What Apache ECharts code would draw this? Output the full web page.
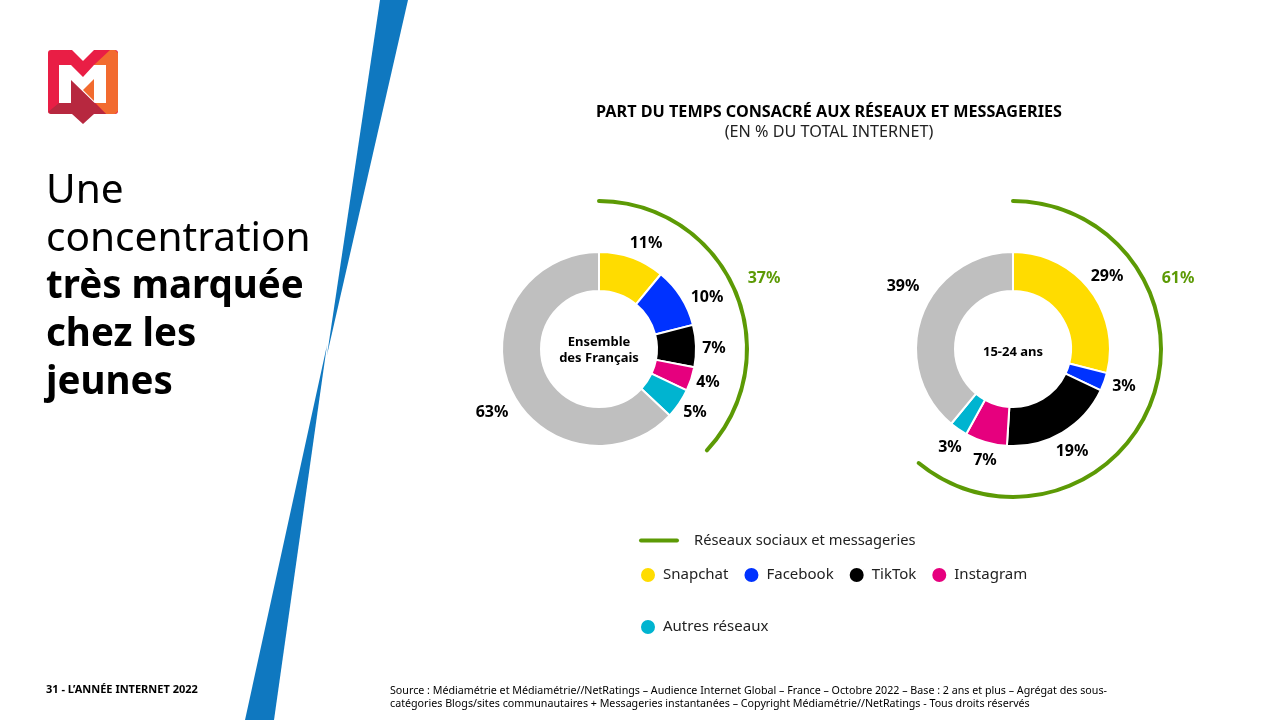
<!DOCTYPE html>
<html lang="fr">
<head>
<meta charset="utf-8">
<title>Part du temps consacré aux réseaux et messageries</title>
<style>
  html, body { margin: 0; padding: 0; background: #fff; }
  #chart { width: 1280px; height: 720px; }
</style>
<script src="https://cdn.jsdelivr.net/npm/echarts@6/dist/echarts.min.js"></script>
</head>
<body>
<div id="chart"></div>
<script>
const categories = ['Snapchat', 'Facebook', 'TikTok', 'Instagram', 'Autres réseaux', 'Autres usages'];
const ensembleValues = [11, 10, 7, 4, 5, 63];
const jeunesValues = [29, 3, 19, 7, 3, 39];
const reseauxName = 'Réseaux sociaux et messageries';
const ensembleTotal = 37;
const jeunesTotal = 61;

const sliceColors = ['#FFDC00', '#0032FF', '#000000', '#E6007E', '#00B4D0', '#BFBFBF'];
const GREEN = '#5C9A05';
const FONT = '"Noto Sans", sans-serif';

// label centres, relative to the donut centre
const ensembleLabelOffsets = [[47, -106], [108, -52], [115, -1], [109, 33], [96, 63], [-107, 63]];
const jeunesLabelOffsets = [[94, -73], [111, 37], [59, 102], [-28, 111], [-63, 98], [-110, -63]];

function donut(values, center, offsets) {
  return {
    type: 'pie',
    center: center,
    radius: [58, 97],
    startAngle: 90,
    avoidLabelOverlap: false,
    silent: true,
    animation: false,
    itemStyle: { borderColor: '#fff', borderWidth: 2 },
    label: { formatter: '{d}%', color: '#000', fontFamily: FONT, fontWeight: 'bold', fontSize: 16 },
    labelLine: { show: false },
    labelLayout: params => {
      const off = offsets[params.dataIndex];
      return { x: center[0] + off[0], y: center[1] + off[1], align: 'center', verticalAlign: 'middle' };
    },
    data: categories.map((name, i) => ({
      name: name,
      value: values[i],
      itemStyle: { color: sliceColors[i] }
    }))
  };
}

function totalArc(total, center) {
  return {
    type: 'gauge',
    name: reseauxName,
    center: center,
    radius: 150,
    startAngle: 90,
    endAngle: -270,
    min: 0,
    max: 100,
    silent: true,
    animation: false,
    itemStyle: { color: GREEN },
    progress: { show: true, roundCap: true, width: 4, itemStyle: { color: GREEN } },
    axisLine: { show: false },
    axisTick: { show: false },
    splitLine: { show: false },
    axisLabel: { show: false },
    pointer: { show: false },
    anchor: { show: false },
    title: { show: false },
    detail: {
      offsetCenter: [165, -71],
      formatter: '{value}%',
      color: GREEN,
      fontFamily: FONT,
      fontWeight: 'bold',
      fontSize: 16
    },
    data: [{ value: total }]
  };
}

function legendText(padLeft, size) {
  return { color: '#222', fontFamily: FONT, fontSize: size, padding: [0, 0, 0, padLeft] };
}

function textEl(text, x, y, size, weight) {
  return {
    type: 'text',
    x: x,
    y: y,
    silent: true,
    style: { text: text, fill: '#000', font: `${weight} ${size}px ${FONT}`, textVerticalAlign: 'middle' }
  };
}

function centerText(text, x, y) {
  return {
    type: 'text',
    x: x,
    y: y,
    silent: true,
    style: {
      text: text,
      fill: '#000',
      font: `bold 13px ${FONT}`,
      lineHeight: 16,
      textAlign: 'center',
      textVerticalAlign: 'middle'
    }
  };
}

function poly(points, fill) {
  return { type: 'polygon', silent: true, shape: { points: points }, style: { fill: fill } };
}

const decor = [
  // blue slash, two long triangles meeting near mid height
  poly([[380, 0], [408, 0], [327, 355]], '#0F78C0'),
  poly([[327, 345], [274, 720], [245, 720]], '#0F78C0'),
  // logo
  { type: 'rect', silent: true, shape: { x: 48, y: 50, width: 70, height: 64, r: 3 }, style: { fill: '#E91E45' } },
  poly([[110, 50], [115, 50], [118, 53], [118, 111], [115, 114], [106, 114], [83, 90], [94, 65]], '#F26B2F'),
  poly([[72, 50], [94, 50], [83, 61]], '#FFFFFF'),
  poly([[59, 65], [71, 65], [83, 77], [94, 65], [106, 65], [106, 103], [59, 103]], '#FFFFFF'),
  poly([[94, 79], [83, 90], [94, 101]], '#F26B2F'),
  poly([[48, 112], [59, 103], [71, 103], [71, 80], [106, 114], [94, 114], [83, 124], [72, 114], [51, 114]], '#B7283F'),
  // left heading
  textEl('Une', 46, 191, 40.6, 'normal'),
  textEl('concentration', 46, 239, 40.6, 'normal'),
  textEl('très marquée', 46, 287, 38.5, 'bold'),
  textEl('chez les', 46, 335, 38.5, 'bold'),
  textEl('jeunes', 46, 383, 38.5, 'bold'),
  // footer
  textEl('31 - L’ANNÉE INTERNET 2022', 46, 690, 11, 'bold'),
  textEl('Source : Médiamétrie et Médiamétrie//NetRatings – Audience Internet Global – France – Octobre 2022 – Base : 2 ans et plus – Agrégat des sous-', 390, 691, 10.7, 'normal'),
  textEl('catégories Blogs/sites communautaires + Messageries instantanées – Copyright Médiamétrie//NetRatings - Tous droits réservés', 390, 704, 10.7, 'normal'),
  // donut centres
  centerText('Ensemble\ndes Français', 599, 350),
  centerText('15-24 ans', 1013, 352)
];

const chart = echarts.init(document.getElementById('chart'), null, { renderer: 'canvas' });

chart.setOption({
  backgroundColor: '#fff',
  animation: false,
  tooltip: { show: false },
  title: {
    text: 'PART DU TEMPS CONSACRÉ AUX RÉSEAUX ET MESSAGERIES',
    subtext: '(EN % DU TOTAL INTERNET)',
    left: 824,
    top: 98,
    textAlign: 'center',
    itemGap: 2,
    textStyle: { color: '#000', fontFamily: FONT, fontWeight: 'bold', fontSize: 16.2, lineHeight: 18 },
    subtextStyle: { color: '#222', fontFamily: FONT, fontSize: 16.2, lineHeight: 18 }
  },
  legend: [
    {
      left: 634,
      top: 528,
      selectedMode: false,
      itemWidth: 40,
      itemHeight: 4,
      textStyle: legendText(10, 14.7),
      data: [{ name: reseauxName, icon: 'path://M2 0H38A2 2 0 0 1 38 4H2A2 2 0 0 1 2 0Z', itemStyle: { color: GREEN } }]
    },
    {
      left: 634,
      top: 561,
      selectedMode: false,
      icon: 'circle',
      itemWidth: 16,
      itemHeight: 16,
      itemGap: 14,
      textStyle: legendText(2, 15),
      data: categories.slice(0, 4)
    },
    {
      left: 634,
      top: 613,
      selectedMode: false,
      icon: 'circle',
      itemWidth: 16,
      itemHeight: 16,
      textStyle: legendText(2, 15),
      data: categories.slice(4, 5)
    }
  ],
  series: [
    donut(ensembleValues, [599, 349], ensembleLabelOffsets),
    donut(jeunesValues, [1013, 349], jeunesLabelOffsets),
    totalArc(ensembleTotal, [599, 349]),
    totalArc(jeunesTotal, [1013, 349])
  ],
  graphic: decor
});
</script>
</body>
</html>
